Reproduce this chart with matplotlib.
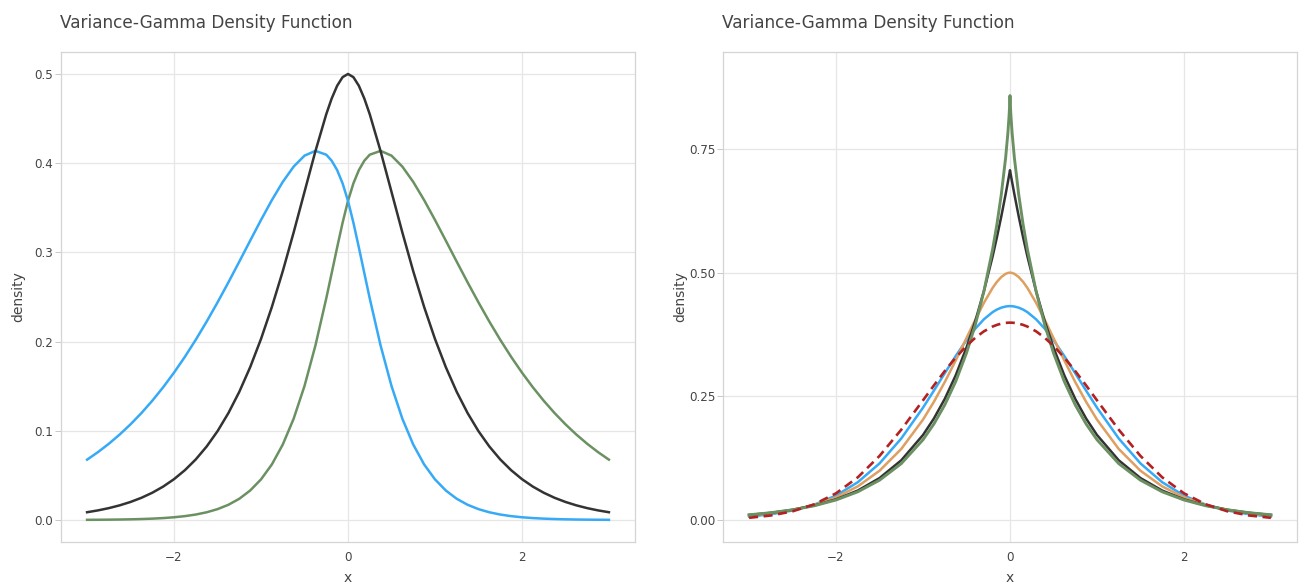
import numpy as np
import matplotlib.pyplot as plt

plt.rcParams['font.family'] = ['DejaVu Sans']
plt.rcParams['lines.scale_dashes'] = False

# left panel: nu = 0.5, theta = -1 / 0 / 1
x_left = [-3, -2.875, -2.75, -2.625, -2.5, -2.375, -2.25, -2.125, -2, -1.875, -1.75, -1.625,
          -1.5, -1.375, -1.25, -1.125, -1, -0.875, -0.75, -0.625, -0.5, -0.375, -0.25,
          -0.1875, -0.125, -0.0625, 0, 0.0625, 0.125, 0.1875, 0.25, 0.375, 0.5, 0.625, 0.75,
          0.875, 1, 1.125, 1.25, 1.375, 1.5, 1.625, 1.75, 1.875, 2, 2.125, 2.25, 2.375, 2.5,
          2.625, 2.75, 2.875, 3]
blue_left = [0.06762, 0.07606, 0.08543, 0.09581, 0.10728, 0.11988, 0.13372, 0.14882, 0.16526,
             0.18300, 0.20211, 0.22243, 0.24396, 0.26642, 0.28961, 0.31310, 0.33637, 0.35866,
             0.37902, 0.39615, 0.40844, 0.41379, 0.40950, 0.40273, 0.39224, 0.37745, 0.35777,
             0.33310, 0.30547, 0.27679, 0.24838, 0.19546, 0.15026, 0.11350, 0.08457, 0.06232,
             0.04552, 0.03300, 0.02377, 0.01703, 0.01215, 0.00862, 0.00610, 0.00430, 0.00303,
             0.00212, 0.00149, 0.00104, 0.00072, 0.00050, 0.00035, 0.00024, 0.00017]
black_left = [0.00868, 0.01074, 0.01328, 0.01640, 0.02021, 0.02487, 0.03055, 0.03744, 0.04579,
              0.05586, 0.06794, 0.08240, 0.09957, 0.11987, 0.14365, 0.17127, 0.20300, 0.23894,
              0.27891, 0.32232, 0.36788, 0.41332, 0.45490, 0.47251, 0.48675, 0.49640, 0.50000,
              0.49640, 0.48675, 0.47251, 0.45490, 0.41332, 0.36788, 0.32232, 0.27891, 0.23894,
              0.20300, 0.17127, 0.14365, 0.11987, 0.09957, 0.08240, 0.06794, 0.05586, 0.04579,
              0.03744, 0.03055, 0.02487, 0.02021, 0.01640, 0.01328, 0.01074, 0.00868]
green_left = [0.00017, 0.00024, 0.00035, 0.00050, 0.00072, 0.00104, 0.00149, 0.00212, 0.00303,
              0.00430, 0.00610, 0.00862, 0.01215, 0.01703, 0.02377, 0.03300, 0.04552, 0.06232,
              0.08457, 0.11350, 0.15026, 0.19546, 0.24838, 0.27679, 0.30547, 0.33310, 0.35777,
              0.37745, 0.39224, 0.40273, 0.40950, 0.41379, 0.40844, 0.39615, 0.37902, 0.35866,
              0.33637, 0.31310, 0.28961, 0.26642, 0.24396, 0.22243, 0.20211, 0.18300, 0.16526,
              0.14882, 0.13372, 0.11988, 0.10728, 0.09581, 0.08543, 0.07606, 0.06762]

# right panel: theta = 0, nu varies, plus the normal curve
x_right = [-3, -2.75, -2.5, -2.25, -2, -1.75, -1.5, -1.25, -1, -0.875, -0.75, -0.625, -0.5,
           -0.4, -0.3, -0.2, -0.15, -0.1, -0.05, -0.025, -0.01, -0.005, 0, 0.005, 0.01,
           0.025, 0.05, 0.1, 0.15, 0.2, 0.3, 0.4, 0.5, 0.625, 0.75, 0.875, 1, 1.25, 1.5,
           1.75, 2, 2.25, 2.5, 2.75, 3]
blue_right = [0.00680, 0.01151, 0.01912, 0.03103, 0.04942, 0.07640, 0.11436, 0.16483, 0.22715,
              0.26152, 0.29672, 0.33135, 0.36368, 0.38658, 0.40575, 0.42023, 0.42547, 0.42927,
              0.43157, 0.43215, 0.43231, 0.43233, 0.43234, 0.43233, 0.43231, 0.43215, 0.43157,
              0.42927, 0.42547, 0.42023, 0.40575, 0.38658, 0.36368, 0.33135, 0.29672, 0.26152,
              0.22715, 0.16483, 0.11436, 0.07640, 0.04942, 0.03103, 0.01912, 0.01151, 0.00680]
orange_right = [0.00868, 0.01328, 0.02021, 0.03055, 0.04579, 0.06794, 0.09957, 0.14365, 0.20300,
                0.23894, 0.27891, 0.32232, 0.36788, 0.40440, 0.43905, 0.46922, 0.48153, 0.49124,
                0.49766, 0.49940, 0.49990, 0.49998, 0.50000, 0.49998, 0.49990, 0.49940, 0.49766,
                0.49124, 0.48153, 0.46922, 0.43905, 0.40440, 0.36788, 0.32232, 0.27891, 0.23894,
                0.20300, 0.14365, 0.09957, 0.06794, 0.04579, 0.03055, 0.02021, 0.01328, 0.00868]
black_right = [0.01016, 0.01447, 0.02061, 0.02935, 0.04179, 0.05952, 0.08476, 0.12071, 0.17191,
               0.20515, 0.24482, 0.29216, 0.34865, 0.40162, 0.46263, 0.53290, 0.57196, 0.61386,
               0.65883, 0.68254, 0.69718, 0.70212, 0.70711, 0.70212, 0.69718, 0.68254, 0.65883,
               0.61386, 0.57196, 0.53290, 0.46263, 0.40162, 0.34865, 0.29216, 0.24482, 0.20515,
               0.17191, 0.12071, 0.08476, 0.05952, 0.04179, 0.02935, 0.02061, 0.01447, 0.01016]
green_right = [0.01048, 0.01467, 0.02055, 0.02882, 0.04050, 0.05702, 0.08050, 0.11404, 0.16234,
               0.19416, 0.23272, 0.27977, 0.33768, 0.39407, 0.46236, 0.54700, 0.59819, 0.65815,
               0.73270, 0.78094, 0.81894, 0.83572, 0.85800, 0.83572, 0.81894, 0.78094, 0.73270,
               0.65815, 0.59819, 0.54700, 0.46236, 0.39407, 0.33768, 0.27977, 0.23272, 0.19416,
               0.16234, 0.11404, 0.08050, 0.05702, 0.04050, 0.02882, 0.02055, 0.01467, 0.01048]
normal_right = [0.00443, 0.00909, 0.01753, 0.03174, 0.05399, 0.08628, 0.12952, 0.18265, 0.24197,
                0.27206, 0.30114, 0.32816, 0.35207, 0.36827, 0.38139, 0.39104, 0.39448, 0.39695,
                0.39844, 0.39882, 0.39892, 0.39894, 0.39894, 0.39894, 0.39892, 0.39882, 0.39844,
                0.39695, 0.39448, 0.39104, 0.38139, 0.36827, 0.35207, 0.32816, 0.30114, 0.27206,
                0.24197, 0.18265, 0.12952, 0.08628, 0.05399, 0.03174, 0.01753, 0.00909, 0.00443]

title = 'Variance-Gamma Density Function'
BLUE = '#36aaf6'
BLACK = '#333333'
GREEN = '#6b9162'
ORANGE = '#de9f60'
RED = '#b22222'
TXT = '#444444'

W, H = 1299, 587
fig = plt.figure(figsize=(W / 100, H / 100), dpi=100)

def panel(left_px, ylim, yticks, ylabels):
    ax = fig.add_axes([left_px / W, 1 - 542 / H, 574 / W, 489.7 / H])
    ax.set_xlim(-3.3, 3.3)
    ax.set_ylim(*ylim)
    ax.set_xticks([-2, 0, 2])
    ax.set_xticklabels(['\u22122', '0', '2'])
    ax.set_yticks(yticks)
    ax.set_yticklabels(ylabels)
    ax.grid(True, color='#e6e6e6', lw=0.9)
    ax.set_axisbelow(True)
    for s in ax.spines.values():
        s.set_color('#d4d4d4')
        s.set_linewidth(0.9)
    ax.tick_params(axis='y', length=4.3, width=0.7, color='#c8c8c8', pad=1.2,
                   labelsize=8.6, labelcolor=TXT)
    ax.tick_params(axis='x', length=0, pad=6.8, labelsize=8.6, labelcolor=TXT)
    fig.text((left_px - 1) / W, 1 - 28 / H, title, fontsize=12.2, color=TXT, va='baseline')
    fig.text((left_px + 287) / W, 1 - 578 / H, 'x', fontsize=10, color=TXT,
             ha='center', va='center')
    fig.text((left_px - 43) / W, 1 - 297 / H, 'density', fontsize=10, color=TXT,
             ha='center', va='center', rotation=90)
    return ax

ax1 = panel(61, (-0.0247, 0.5243), [0, 0.1, 0.2, 0.3, 0.4, 0.5],
            ['0.0', '0.1', '0.2', '0.3', '0.4', '0.5'])
ax1.plot(x_left, green_left, color=GREEN, lw=1.8)
ax1.plot(x_left, blue_left, color=BLUE, lw=1.8)
ax1.plot(x_left, black_left, color=BLACK, lw=1.8)

ax2 = panel(723, (-0.0445, 0.9455), [0, 0.25, 0.5, 0.75],
            ['0.00', '0.25', '0.50', '0.75'])
ax2.plot(x_right, blue_right, color=BLUE, lw=1.8)
ax2.plot(x_right, orange_right, color=ORANGE, lw=1.8)
ax2.plot(x_right, black_right, color=BLACK, lw=1.8)
ax2.plot(x_right, green_right, color=GREEN, lw=2.1)
ax2.plot(x_right, normal_right, color=RED, lw=1.9, dashes=(6.5, 4.0))

fig.savefig('out.png', dpi=100)
